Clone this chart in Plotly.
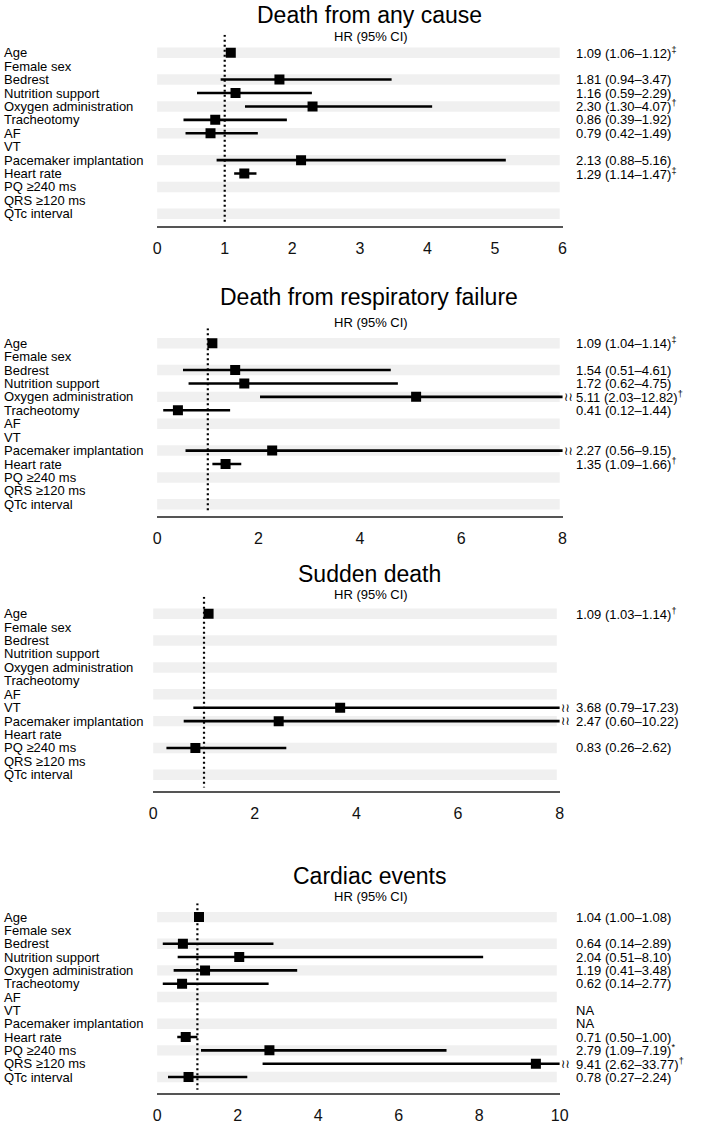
import plotly.graph_objects as go

rows = ["Age", "Female sex", "Bedrest", "Nutrition support", "Oxygen administration",
        "Tracheotomy", "AF", "VT", "Pacemaker implantation", "Heart rate",
        "PQ ≥240 ms", "QRS ≥120 ms", "QTc interval"]

titles = ["Death from any cause", "Death from respiratory failure", "Sudden death", "Cardiac events"]
subtitle = "HR (95% CI)"
x_max = [6, 8, 8, 10]
x_dtick = [1, 2, 2, 2]

N = None
hr_any = [1.09, N, 1.81, 1.16, 2.30, 0.86, 0.79, N, 2.13, 1.29, N, N, N]
lo_any = [1.06, N, 0.94, 0.59, 1.30, 0.39, 0.42, N, 0.88, 1.14, N, N, N]
hi_any = [1.12, N, 3.47, 2.29, 4.07, 1.92, 1.49, N, 5.16, 1.47, N, N, N]
sig_any = ["‡", "", "", "", "†", "", "", "", "", "‡", "", "", ""]

hr_resp = [1.09, N, 1.54, 1.72, 5.11, 0.41, N, N, 2.27, 1.35, N, N, N]
lo_resp = [1.04, N, 0.51, 0.62, 2.03, 0.12, N, N, 0.56, 1.09, N, N, N]
hi_resp = [1.14, N, 4.61, 4.75, 12.82, 1.44, N, N, 9.15, 1.66, N, N, N]
sig_resp = ["‡", "", "", "", "†", "", "", "", "", "†", "", "", ""]

hr_sud = [1.09, N, N, N, N, N, N, 3.68, 2.47, N, 0.83, N, N]
lo_sud = [1.03, N, N, N, N, N, N, 0.79, 0.60, N, 0.26, N, N]
hi_sud = [1.14, N, N, N, N, N, N, 17.23, 10.22, N, 2.62, N, N]
sig_sud = ["†", "", "", "", "", "", "", "", "", "", "", "", ""]

hr_card = [1.04, N, 0.64, 2.04, 1.19, 0.62, N, N, N, 0.71, 2.79, 9.41, 0.78]
lo_card = [1.00, N, 0.14, 0.51, 0.41, 0.14, N, N, N, 0.50, 1.09, 2.62, 0.27]
hi_card = [1.08, N, 2.89, 8.10, 3.48, 2.77, N, N, N, 1.00, 7.19, 33.77, 2.24]
sig_card = ["", "", "", "", "", "", "", "", "", "", "*", "†", ""]
na_card = [False, False, False, False, False, False, False, True, True, False, False, False, False]

panels = [
    (hr_any, lo_any, hi_any, sig_any, None),
    (hr_resp, lo_resp, hi_resp, sig_resp, None),
    (hr_sud, lo_sud, hi_sud, sig_sud, None),
    (hr_card, lo_card, hi_card, sig_card, na_card),
]

W, H = 709, 1124
# pixel geometry per panel: x0, x1, age_px, row spacing, axis_px, top_px, title_px, sub_px
geom = [
    (156, 569, 53, 13.5, 227, 35, 15, 37),
    (156, 569, 345, 13.5, 519, 330, 299, 324),
    (152, 566, 617, 13.5, 795, 600, 577, 598),
    (156, 566, 922, 13.4, 1099, 908, 881, 901),
]

FONT = "Liberation Sans, Arial, Helvetica, sans-serif"
fig = go.Figure()
annotations = []
shapes = []
layout_axes = {}

for p, ((hr, lo, hi, sig, na), (x0, x1, age_px, sp, axis_px, top_px, title_px, sub_px)) in enumerate(zip(panels, geom)):
    k = p + 1
    xa = "x" if k == 1 else f"x{k}"
    ya = "y" if k == 1 else f"y{k}"
    r_bottom = (axis_px - age_px) / sp
    r_top = -(age_px - top_px) / sp
    layout_axes["xaxis" if k == 1 else f"xaxis{k}"] = dict(
        domain=[x0 / W, x1 / W], range=[0, x_max[p]], anchor=ya,
        dtick=x_dtick[p], tick0=0, showgrid=False, zeroline=False,
        showline=True, linecolor="#555555", linewidth=1.5,
        ticks="outside", ticklen=7, tickcolor="rgba(0,0,0,0)",
        tickfont=dict(family=FONT, size=16, color="#111111"), fixedrange=True)
    layout_axes["yaxis" if k == 1 else f"yaxis{k}"] = dict(
        domain=[1 - axis_px / H, 1 - top_px / H], range=[r_bottom, r_top], anchor=xa,
        showgrid=False, zeroline=False, showline=False, showticklabels=False,
        ticks="", fixedrange=True)

    # alternating bands
    for i in range(0, len(rows), 2):
        shapes.append(dict(type="rect", xref=f"{xa} domain", yref=ya, x0=0, x1=0.993,
                           y0=i - 0.39, y1=i + 0.39, fillcolor="#f0f0f0",
                           line=dict(width=0), layer="below"))

    # reference line at HR = 1
    fig.add_trace(go.Scatter(x=[1, 1], y=[r_top, r_bottom - 0.25], mode="lines",
                             line=dict(color="black", width=2.2, dash="2px,3px"),
                             xaxis=xa, yaxis=ya, hoverinfo="skip", showlegend=False))

    # CI lines
    cx, cy = [], []
    for i, (l, h) in enumerate(zip(lo, hi)):
        if l is not None:
            cx += [l, h, None]
            cy += [i, i, None]
    fig.add_trace(go.Scatter(x=cx, y=cy, mode="lines", line=dict(color="black", width=2.6),
                             xaxis=xa, yaxis=ya, hoverinfo="skip", showlegend=False))
    # point estimates
    px_, py_ = [], []
    for i, v in enumerate(hr):
        if v is not None:
            px_.append(v)
            py_.append(i)
    fig.add_trace(go.Scatter(x=px_, y=py_, mode="markers",
                             marker=dict(symbol="square", size=10, color="black"),
                             xaxis=xa, yaxis=ya, hoverinfo="skip", showlegend=False))

    # row labels
    for i, name in enumerate(rows):
        annotations.append(dict(x=0, xref="paper", y=i, yref=ya, text=name, showarrow=False,
                                xanchor="left", yanchor="middle", borderpad=0, borderwidth=0,
                                font=dict(family=FONT, size=13, color="black")))
    # HR text and break marks
    for i in range(len(rows)):
        txt = None
        if hr[i] is not None:
            txt = f"{hr[i]:.2f} ({lo[i]:.2f}–{hi[i]:.2f})"
            if sig[i]:
                txt += f"<sup>{sig[i]}</sup>"
            if hi[i] > x_max[p]:
                annotations.append(dict(x=x1 / W + 1 / W, xref="paper", y=i, yref=ya, text="≀≀",
                                        showarrow=False, xanchor="left", yanchor="middle",
                                        borderpad=0, borderwidth=0,
                                        font=dict(family="DejaVu Sans", size=12, color="black")))
        elif na is not None and na[i]:
            txt = "NA"
        if txt:
            annotations.append(dict(x=583 / W, xref="paper", y=i, yref=ya, text=txt,
                                    showarrow=False, xanchor="left", yanchor="middle",
                                    borderpad=0, borderwidth=0,
                                    font=dict(family=FONT, size=13, color="black")))
    # titles
    annotations.append(dict(x=372 / W, xref="paper", y=1 - title_px / H, yref="paper",
                            text=titles[p], showarrow=False, xanchor="center", yanchor="middle",
                            font=dict(family=FONT, size=23, color="black")))
    annotations.append(dict(x=374 / W, xref="paper", y=1 - sub_px / H, yref="paper",
                            text=subtitle, showarrow=False, xanchor="center", yanchor="middle",
                            font=dict(family=FONT, size=13, color="black")))

fig.update_layout(width=W, height=H, margin=dict(l=0, r=0, t=0, b=0),
                  plot_bgcolor="white", paper_bgcolor="white", showlegend=False,
                  annotations=annotations, shapes=shapes, **layout_axes)

fig.write_html("out.html", config={"displayModeBar": False},
               post_script="document.body.style.margin='0px';")
